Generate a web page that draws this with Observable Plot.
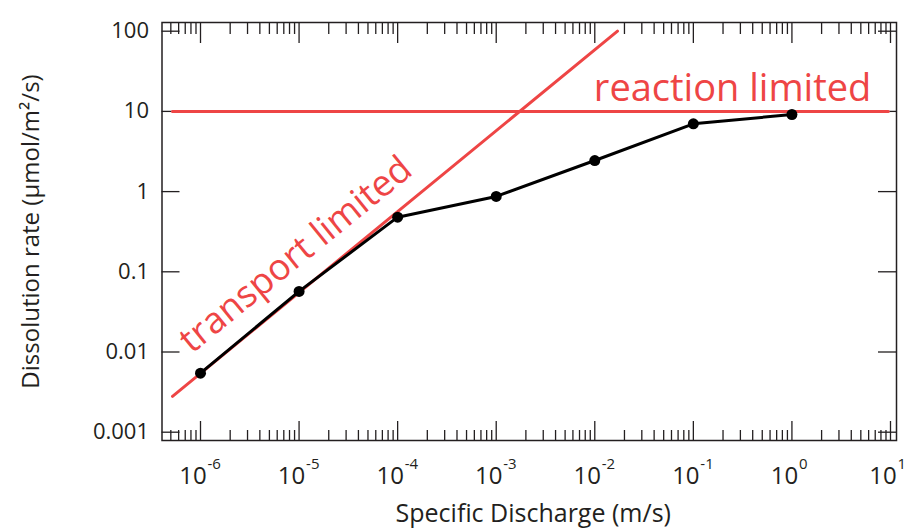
<!DOCTYPE html>
<html><head><meta charset="utf-8">
<script src="https://cdn.jsdelivr.net/npm/d3@7"></script>
<script src="https://cdn.jsdelivr.net/npm/@observablehq/plot@0.6"></script>
<style>body{margin:0;background:#fff;}</style>
</head><body><div id="chart"></div>
<script>
// data
const discharge = [1e-6, 1e-5, 1e-4, 1e-3, 1e-2, 1e-1, 1];
const rate = [0.00545, 0.057, 0.48, 0.87, 2.44, 7.0, 9.15];
const transportX = [5.2e-7, 1.7e-2];
const transportY = [0.0028, 100];
const reactionX = [5.2e-7, 9.5];
const reactionY = [10, 10];
const xMajorTicks = [1e-6, 1e-5, 1e-4, 1e-3, 1e-2, 1e-1, 1, 10];
const xTickBase = ["10", "10", "10", "10", "10", "10", "10", "10"];
const xTickExponents = ["-6", "-5", "-4", "-3", "-2", "-1", "0", "1"];
const yTicks = [0.001, 0.01, 0.1, 1, 10, 100];
const yTickLabels = ["0.001", "0.01", "0.1", "1", "10", "100"];
const minorMultipliers = [2, 3, 4, 5, 6, 7, 8, 9];
const minorDecades = [1e-7, 1e-6, 1e-5, 1e-4, 1e-3, 1e-2, 1e-1, 1];
const xTitle = "Specific Discharge (m/s)";
const yTitle = "Dissolution rate (μmol/m²/s)";
const reactionLabel = "reaction limited";
const transportLabel = "transport limited";

const xDomain = [Math.pow(10, -6.3906), Math.pow(10, 1.0609)];
const yDomain = [Math.pow(10, -3.1035), Math.pow(10, 2.1085)];
const xMinorTicks = minorDecades.flatMap(d => minorMultipliers.map(m => m * d))
  .filter(v => v > xDomain[0] && v < xDomain[1]);

const points = discharge.map((x, i) => ({x, y: rate[i]}));
const transport = transportX.map((x, i) => ({x, y: transportY[i]}));
const reaction = reactionX.map((x, i) => ({x, y: reactionY[i]}));
const xLabels = xMajorTicks.map((x, i) => ({x, base: xTickBase[i], exp: xTickExponents[i]}));
const yLabels = yTicks.map((y, i) => ({y, label: yTickLabels[i]}));

const red = "#ee4545";
const ink = "#231f20";
const font = "'Open Sans', sans-serif";
const tickStyle = {fill: "none", label: null, stroke: ink, strokeWidth: 1.3};

const chart = Plot.plot({
  width: 906, height: 529,
  marginLeft: 161.5, marginRight: 10, marginTop: 22, marginBottom: 89,
  style: {fontFamily: font, color: ink, background: "white", overflow: "visible"},
  x: {type: "log", domain: xDomain, axis: null},
  y: {type: "log", domain: yDomain, axis: null},
  marks: [
    Plot.axisX(xMinorTicks, {anchor: "bottom", tickSize: -10, ...tickStyle}),
    Plot.axisX(xMajorTicks, {anchor: "bottom", tickSize: -19, ...tickStyle}),
    Plot.axisX(xMinorTicks, {anchor: "top", tickSize: -11, ...tickStyle}),
    Plot.axisX(xMajorTicks, {anchor: "top", tickSize: -20, ...tickStyle}),
    Plot.axisY(yTicks, {anchor: "left", tickSize: -18, ...tickStyle}),
    Plot.axisY(yTicks, {anchor: "right", tickSize: -19, ...tickStyle}),
    Plot.frame({stroke: ink, strokeWidth: 1.5}),
    Plot.line(reaction, {x: "x", y: "y", stroke: red, strokeWidth: 3}),
    Plot.line(transport, {x: "x", y: "y", stroke: red, strokeWidth: 3}),
    Plot.line(points, {x: "x", y: "y", stroke: "#000", strokeWidth: 3}),
    Plot.dot(points, {x: "x", y: "y", r: 5.5, fill: "#000"}),
    Plot.text([reactionLabel], {x: reactionX[1], y: reactionY[0], text: d => d, textAnchor: "end", lineAnchor: "bottom", dx: -17, dy: -10, fill: red, fontSize: 38}),
    Plot.text([transportLabel], {x: 1.47e-5, y: 0.081, text: d => d, textAnchor: "middle", lineAnchor: "bottom", rotate: -39.1, dx: -12.5, dy: -15.5, fill: red, fontSize: 36.5}),
    Plot.text(xLabels, {x: "x", frameAnchor: "bottom", text: "base", textAnchor: "middle", lineAnchor: "bottom", dx: -7.5, dy: 43, fontSize: 24, fill: ink}),
    Plot.text(xLabels, {x: "x", frameAnchor: "bottom", text: "exp", textAnchor: "start", lineAnchor: "bottom", dx: 7, dy: 28, fontSize: 15, fill: ink}),
    Plot.text(yLabels, {y: "y", frameAnchor: "left", text: "label", textAnchor: "end", dx: -13, fontSize: 22, fill: ink}),
    Plot.text([xTitle], {frameAnchor: "bottom", text: d => d, textAnchor: "middle", lineAnchor: "bottom", dx: 4, dy: 81, fontSize: 25, fill: ink}),
    Plot.text([yTitle], {frameAnchor: "left", text: d => d, textAnchor: "middle", rotate: -90, dx: -131, fontSize: 24, fill: ink})
  ]
});
document.getElementById("chart").append(chart);
</script>
</body></html>
